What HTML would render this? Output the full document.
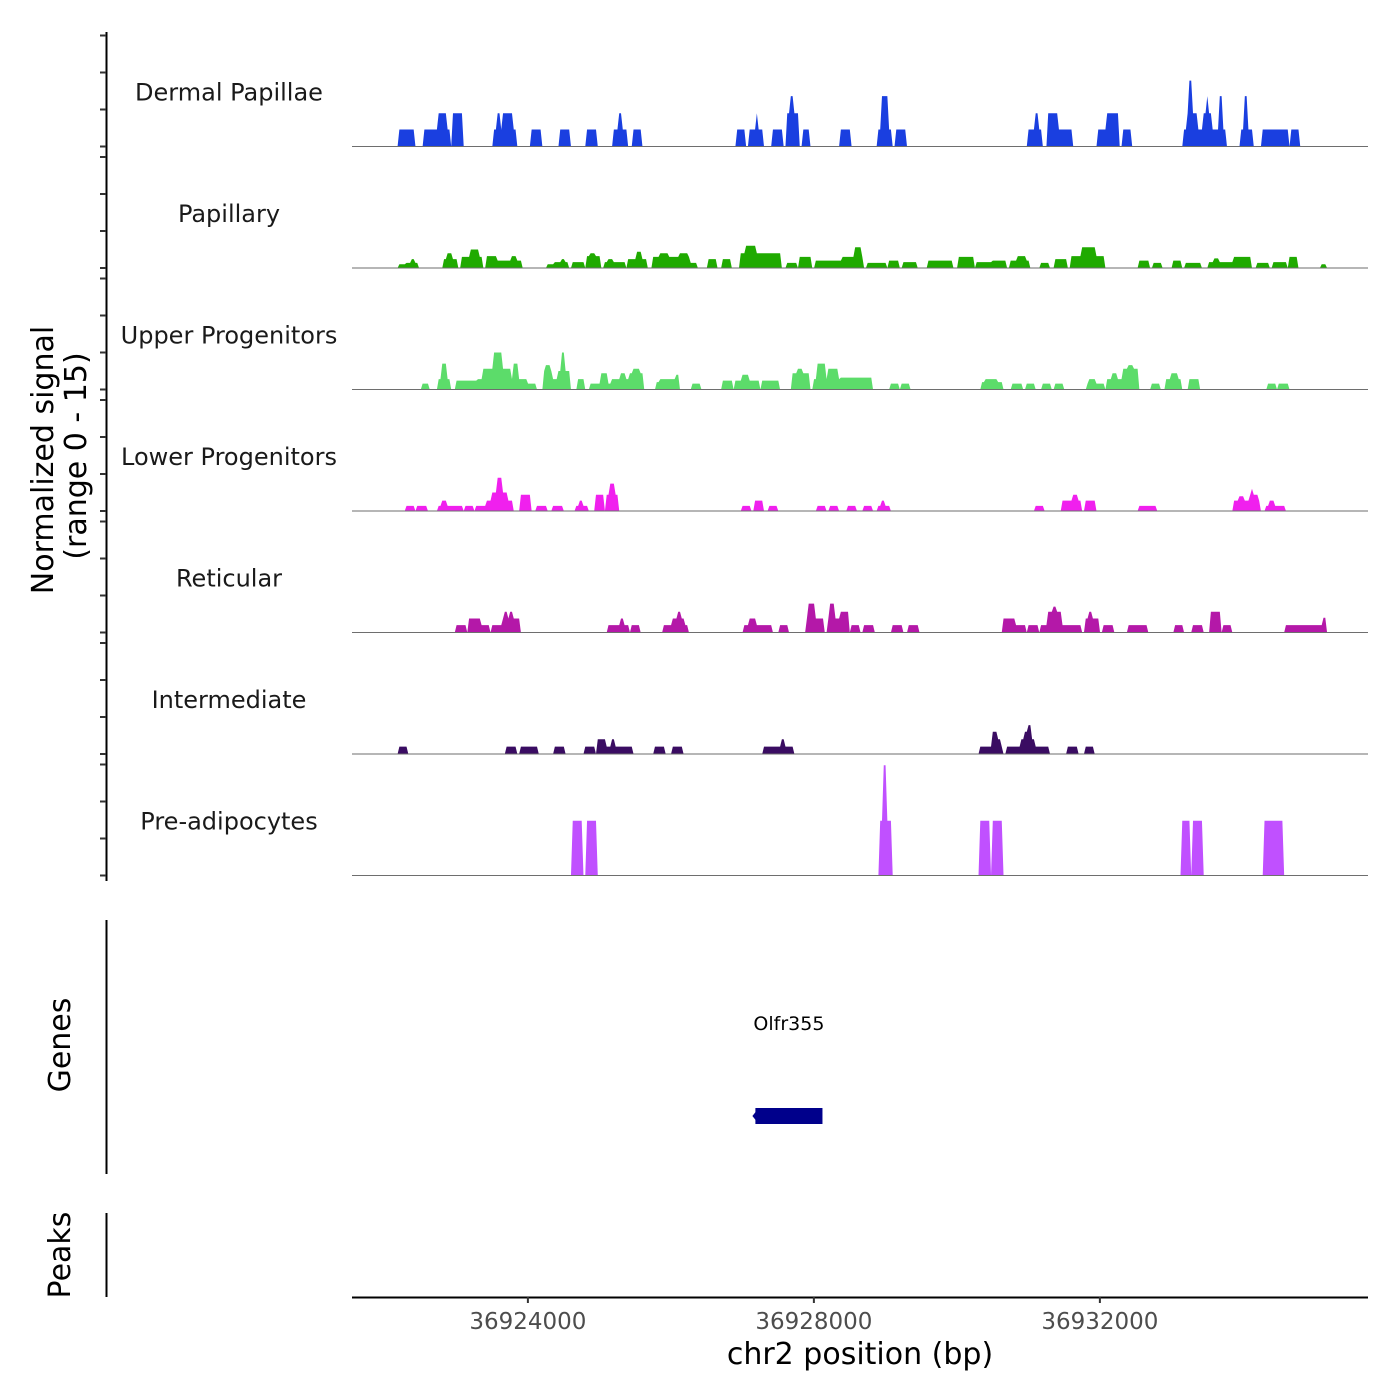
<!DOCTYPE html>
<html><head><meta charset="utf-8">
<style>
html,body{margin:0;padding:0;background:#fff;}
svg{display:block;font-family:"DejaVu Sans","Liberation Sans",sans-serif;}
</style></head>
<body>
<svg id="chart" width="1400" height="1400" viewBox="0 0 1400 1400">
  <rect x="0" y="0" width="1400" height="1400" fill="#fff"/>
  <g id="tracks"></g>
  <g id="yaxis"></g>
  <text x="0" y="0" transform="translate(53,460) rotate(-90)" text-anchor="middle" font-size="30" fill="#000">Normalized signal</text>
  <text x="0" y="0" transform="translate(86,456) rotate(-90)" text-anchor="middle" font-size="30" fill="#000">(range 0 - 15)</text>
  <line x1="106.5" y1="920" x2="106.5" y2="1174" stroke="#000" stroke-width="2"/>
  <text transform="translate(70,1045) rotate(-90)" text-anchor="middle" font-size="30" fill="#000">Genes</text>
  <g id="genes"></g>
  <line x1="106.5" y1="1213" x2="106.5" y2="1297" stroke="#000" stroke-width="2"/>
  <text transform="translate(70,1255) rotate(-90)" text-anchor="middle" font-size="30" fill="#000">Peaks</text>
  <line x1="352" y1="1297.5" x2="1368" y2="1297.5" stroke="#000" stroke-width="2"/>
  <g id="xaxis"></g>
  <text x="860" y="1364" text-anchor="middle" font-size="30" fill="#000">chr2 position (bp)</text>
</svg>
<script>
const REGION_START = 36921540;
const REGION_END = 36935750;
const trackNames = ["Dermal Papillae","Papillary","Upper Progenitors","Lower Progenitors","Reticular","Intermediate","Pre-adipocytes"];
const trackColors = ["#1a3fe0","#1faa00","#5cdc6a","#f020ee","#b418a8","#3a0c62","#c050ff"];
const xTicks = [36924000,36928000,36932000];
const yTicks = [0,5,10,15];
const geneNames = ["Olfr355"];
const geneStarts = [36927182];
const geneEnds = [36928120];
// blocks: [offset start bp, offset end bp, signal]
const dermalBlocks = [[672,728,2.3],[770,854,2.3],[1008,1120,2.3],[1148,1372,2.3],[1204,1246,4.5],[1260,1302,4.5],[1414,1526,4.5],[1988,2296,2.3],[2030,2072,4.5],[2100,2142,4.5],[2170,2240,4.5],[2520,2646,2.3],[2912,3038,2.3],[3290,3402,2.3],[3654,3836,2.3],[3738,3752,4.5],[3948,4046,2.3],[5376,5488,2.3],[5558,5740,2.3],[5656,5670,4.5],[5894,6006,2.3],[6090,6230,4.5],[6146,6174,6.8],[6300,6398,2.3],[6832,6972,2.3],[7364,7546,2.3],[7420,7476,6.8],[7602,7728,2.3],[9464,9646,2.3],[9562,9576,4.5],[9744,9870,4.5],[9898,10066,2.3],[10430,10556,2.3],[10570,10710,4.5],[10794,10892,2.3],[11634,11858,2.3],[11676,11816,4.5],[11704,11746,8.9],[11858,12026,2.3],[11900,12012,4.5],[11956,11970,6.8],[12054,12208,2.3],[12138,12166,6.8],[12432,12586,2.3],[12488,12516,6.8],[12740,12936,2.3],[12964,13090,2.3],[13132,13230,2.3]];
const papillaryBlocks = [[672,742,0.5],[756,924,0.7],[826,854,1.2],[1288,1470,1.2],[1344,1400,2.0],[1526,1820,1.5],[1652,1764,2.5],[1876,2016,1.6],[2044,2352,1.0],[2240,2296,1.6],[2744,3024,0.5],[2842,3024,0.8],[2926,2954,1.2],[3080,3234,0.8],[3276,3472,1.6],[3332,3388,2.0],[3542,3822,0.8],[3584,3640,1.2],[3864,4102,1.2],[3976,4032,2.2],[4200,4704,1.5],[4312,4424,2.0],[4592,4676,2.0],[4732,4802,0.7],[4984,5096,1.2],[5180,5278,1.2],[5432,5992,2.0],[5502,5642,3.0],[6076,6216,0.7],[6272,6412,1.5],[6496,6832,1.0],[6874,7140,1.5],[7028,7112,2.8],[7224,7462,0.7],[7504,7644,1.0],[7700,7896,0.8],[8064,8204,1.0],[8232,8400,1.0],[8484,8680,1.5],[8736,8932,0.8],[8960,9142,1.0],[9212,9464,1.0],[9324,9408,1.6],[9632,9744,0.7],[9842,9996,1.2],[10052,10514,1.6],[10220,10388,2.8],[11004,11144,1.0],[11200,11312,0.7],[11480,11592,1.0],[11662,11872,0.7],[11984,12320,0.8],[12054,12110,1.3],[12348,12432,1.5],[12460,12572,1.5],[12656,12824,0.7],[12880,13062,0.8],[13104,13216,1.5],[13552,13608,0.5]];
const upperBlocks = [[980,1064,0.8],[1204,1372,1.4],[1260,1316,3.5],[1456,1750,1.2],[1750,2170,1.4],[1834,1974,2.8],[1988,2086,5.0],[2086,2212,2.8],[2212,2450,1.4],[2254,2310,3.5],[2450,2562,0.8],[2688,2800,2.5],[2716,2758,3.3],[2800,2898,1.4],[2898,3038,2.5],[2926,2968,5.0],[3150,3234,1.4],[3332,3640,0.8],[3486,3556,2.2],[3640,3864,1.4],[3766,3822,2.2],[3892,4060,2.2],[3948,4004,2.8],[4270,4564,1.0],[4312,4508,1.4],[4536,4564,2.0],[4760,4858,0.8],[5180,5320,1.2],[5362,5684,1.2],[5460,5544,2.0],[5740,5964,1.2],[6160,6384,2.2],[6244,6300,2.8],[6468,7252,1.4],[6524,6608,3.5],[6664,6776,2.8],[6832,7252,1.6],[7546,7644,0.8],[7686,7798,0.8],[8806,9100,1.0],[8862,8932,1.4],[8974,9016,1.4],[9240,9352,0.8],[9436,9534,0.8],[9660,9758,0.8],[9828,9940,0.8],[10290,10514,0.8],[10318,10388,1.4],[10570,10780,1.4],[10640,10696,2.2],[10794,10990,2.8],[10864,10920,3.3],[11186,11298,0.8],[11382,11592,1.4],[11452,11536,2.2],[11718,11844,1.4],[12810,12922,0.8],[12964,13076,0.8]];
const lowerBlocks = [[770,868,0.7],[924,1050,0.7],[1204,1400,0.7],[1260,1302,1.4],[1414,1526,0.7],[1582,1680,0.7],[1736,1890,0.7],[1890,2240,1.4],[1960,2156,2.5],[2030,2086,4.5],[2366,2478,2.2],[2590,2702,0.7],[2800,2926,0.7],[3136,3290,0.7],[3178,3220,1.4],[3416,3514,2.2],[3570,3724,2.2],[3612,3668,3.7],[5460,5558,0.7],[5628,5740,1.4],[5838,5950,0.7],[6510,6622,0.7],[6678,6790,0.7],[6930,7042,0.7],[7154,7266,0.7],[7350,7504,0.7],[7406,7448,1.4],[9562,9674,0.7],[9926,10192,1.4],[10080,10136,2.2],[10262,10388,1.4],[11004,11228,0.7],[12348,12684,1.4],[12404,12474,2.0],[12558,12656,2.2],[12586,12600,3.0],[12796,13048,0.7],[12838,12894,1.4]];
const reticularBlocks = [[1470,1582,1.0],[1638,1778,1.9],[1792,1904,1.0],[1974,2100,1.0],[2100,2338,1.9],[2142,2170,2.8],[2212,2240,2.8],[3584,3864,1.0],[3766,3794,1.9],[3906,4004,1.0],[4368,4690,1.0],[4494,4648,1.9],[4564,4592,2.8],[5488,5852,1.0],[5558,5586,1.9],[5614,5642,1.9],[5992,6090,1.0],[6356,6594,1.9],[6384,6454,3.9],[6650,6818,1.9],[6692,6748,3.9],[6846,6944,2.8],[6986,7084,1.0],[7168,7280,1.0],[7574,7686,1.0],[7784,7910,1.0],[9114,9254,1.9],[9254,9422,1.0],[9450,9590,1.0],[9632,9982,1.0],[9744,9912,2.8],[9814,9842,3.5],[10010,10192,1.0],[10262,10430,1.9],[10318,10346,2.8],[10514,10626,1.0],[10850,10990,1.0],[11004,11116,1.0],[11508,11620,1.0],[11774,11900,1.0],[12012,12138,2.8],[12194,12292,1.0],[13062,13580,1.0],[13580,13608,2.0]];
const intermediateBlocks = [[658,770,1.0],[2170,2282,1.0],[2366,2590,1.0],[2842,2954,1.0],[3262,3388,1.0],[3430,3542,2.0],[3570,3752,1.0],[3640,3668,2.0],[3794,3920,1.0],[4242,4354,1.0],[4494,4620,1.0],[5768,5894,1.0],[5908,6174,1.0],[6006,6034,2.0],[8778,8890,1.0],[8904,9086,1.0],[8960,9016,3.0],[9016,9058,2.0],[9170,9268,1.0],[9296,9618,1.0],[9366,9506,2.0],[9422,9478,3.0],[9450,9478,3.9],[9520,9548,2.0],[9618,9744,1.0],[10024,10150,1.0],[10262,10374,1.0]];
const preadipBlocks = [[3094,3220,7.4],[3276,3402,7.4],[7378,7546,7.4],[7434,7462,14.9],[8778,8904,7.4],[8960,9086,7.4],[11606,11718,7.4],[11774,11886,7.4],[12768,12880,7.4],[12908,13020,7.4]];
const allBlocks = [dermalBlocks,papillaryBlocks,upperBlocks,lowerBlocks,reticularBlocks,intermediateBlocks,preadipBlocks];

const NS = "http://www.w3.org/2000/svg";
const PLOT_L = 352, PLOT_R = 1368;
const BASE0 = 146.5, TRACK_H = 121.5, PX_PER_UNIT = 111/15, BIN = 25;
function xScale(bp){ return PLOT_L + (bp - REGION_START) * (PLOT_R - PLOT_L) / (REGION_END - REGION_START); }
function yScale(v, base){ return base - v * PX_PER_UNIT; }
function mk(tag, attrs){ const e = document.createElementNS(NS, tag); for (const k in attrs) e.setAttribute(k, attrs[k]); return e; }

const tracksG = document.getElementById('tracks');
const yG = document.getElementById('yaxis');
const axisLine = mk('line', {x1:106.5, y1:32, x2:106.5, y2:881, stroke:'#000', 'stroke-width':2});


yG.appendChild(axisLine);

const nBins = Math.ceil((REGION_END - REGION_START) / BIN);
allBlocks.forEach((blocks, ti) => {
  const base = BASE0 + ti * TRACK_H;
  const vals = new Array(nBins).fill(0);
  blocks.forEach(b => {
    const s = REGION_START + b[0], e = REGION_START + b[1];
    for (let i = 0; i < nBins; i++) {
      const bs = REGION_START + i * BIN, be = bs + BIN;
      if (be > s && bs < e) vals[i] = Math.max(vals[i], b[2]);
    }
  });
  let d = 'M' + xScale(REGION_START).toFixed(2) + ',' + base;
  for (let i = 0; i < nBins; i++) {
    const c = REGION_START + (i + 0.5) * BIN;
    d += 'L' + xScale(c).toFixed(2) + ',' + yScale(vals[i], base).toFixed(2);
  }
  d += 'L' + xScale(REGION_END).toFixed(2) + ',' + base + 'Z';
  const area = mk('path', {d: d, fill: trackColors[ti], stroke: 'none'});
  
  
  tracksG.appendChild(area);
  const bl = mk('line', {x1:PLOT_L, y1:base, x2:PLOT_R, y2:base, stroke:'#6e6e6e', 'stroke-width':1});
  
  
  tracksG.appendChild(bl);
  const lab = mk('text', {x:229, y:base - 46, 'text-anchor':'middle', 'font-size':24, fill:'#1a1a1a'});
  lab.textContent = trackNames[ti];
  
  
  tracksG.appendChild(lab);
  yTicks.forEach(t => {
    const ty = yScale(t, base);
    const tk = mk('line', {x1:100, y1:ty, x2:106, y2:ty, stroke:'#333', 'stroke-width':2});
    
    
    yG.appendChild(tk);
  });
});

const xG = document.getElementById('xaxis');
xTicks.forEach(t => {
  const x = xScale(t);
  const tk = mk('line', {x1:x, y1:1297, x2:x, y2:1303, stroke:'#333', 'stroke-width':2});
  
  
  xG.appendChild(tk);
  const lb = mk('text', {x:x, y:1329, 'text-anchor':'middle', 'font-size':23, fill:'#4d4d4d'});
  lb.textContent = String(t);
  
  
  xG.appendChild(lb);
});

const gG = document.getElementById('genes');
geneNames.forEach((g, i) => {
  const x1 = xScale(geneStarts[i]), x2 = xScale(geneEnds[i]);
  const r = mk('rect', {x:x1, y:1108, width:x2 - x1, height:16, fill:'#00008b'});
  
  
  gG.appendChild(r);
  const arr = mk('path', {d:'M' + (x1 + 1) + ',1111 L' + (x1 - 3) + ',1116 L' + (x1 + 1) + ',1121 Z', fill:'#00008b'});
  
  
  gG.appendChild(arr);
  const t = mk('text', {x:(x1 + x2) / 2, y:1030, 'text-anchor':'middle', 'font-size':19, fill:'#000'});
  t.textContent = g;
  
  
  gG.appendChild(t);
});
</script>
</body></html>
